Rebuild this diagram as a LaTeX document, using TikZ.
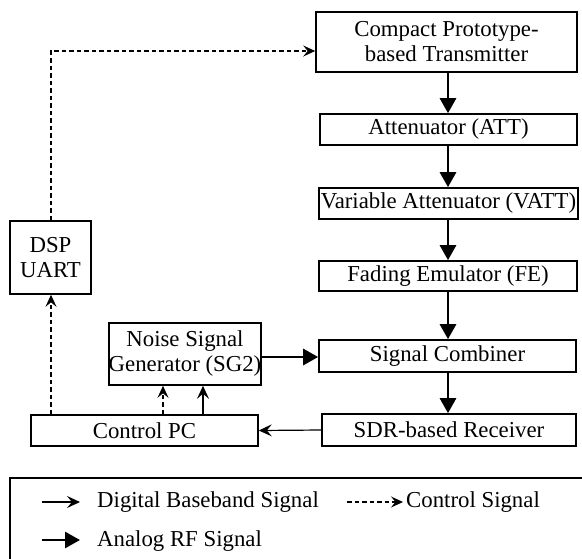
\documentclass[tikz,border=0pt]{standalone}
\usepackage{fontspec}
\setmainfont{Liberation Serif}
\usetikzlibrary{arrows.meta}
\begin{document}
\begin{tikzpicture}[x=1pt,y=-1pt,
  txt/.style={font=\fontsize{22.8}{25}\selectfont},
  box/.style={txt, draw, line width=1.6pt, inner sep=0pt, align=center},
  rf/.style={line width=2.8pt, -{Triangle[length=15pt,width=16pt]}},
  dig/.style={line width=1.2pt, -{Stealth[length=13pt,width=12pt,inset=5pt]}},
  ctl/.style={line width=1.1pt, dash pattern=on 4.5pt off 3pt, -{Stealth[length=12pt,width=11pt,inset=4.5pt]}},
  lbl/.style={txt, anchor=base west, inner sep=0pt}]
\useasboundingbox (0,0) rectangle (582,558);
\clip (0,0) rectangle (582,558);

% boxes
\node[box, minimum width=261pt, minimum height=60pt] (tx) at (446.5,42) {Compact Prototype-\\based Transmitter};
\node[box, minimum width=257pt, minimum height=31pt] (att) at (448.5,129.5) {Attenuator (ATT)};
\node[box, minimum width=259pt, minimum height=31pt] (vatt) at (448.5,203.5) {Variable Attenuator (VATT)};
\node[box, minimum width=258pt, minimum height=30pt] (fe) at (448,276) {Fading Emulator (FE)};
\node[box, minimum width=257pt, minimum height=32pt] (comb) at (447.5,356) {Signal Combiner};
\node[box, minimum width=254pt, minimum height=32pt] (sdr) at (449,430) {SDR-based Receiver};
\node[box, minimum width=144pt, minimum height=62pt] (noise) at (185,354) {Noise Signal\\Generator (SG2)};
\node[box, minimum width=227pt, minimum height=31pt] (pc) at (144.5,430.5) {Control PC};
\node[box, minimum width=81pt, minimum height=73pt] (dsp) at (50.5,257.5) {DSP\\UART};

% helper coordinates
\coordinate (ax) at (448,0);
\coordinate (c1) at (163,0);
\coordinate (c2) at (203,0);
\coordinate (dx) at (51,0);
\coordinate (txin) at ([yshift=-9pt]tx.west);

% RF chain
\draw[rf] (tx.south -| ax) -- (att.north -| ax);
\draw[rf] (att.south -| ax) -- (vatt.north -| ax);
\draw[rf] (vatt.south -| ax) -- (fe.north -| ax);
\draw[rf] (fe.south -| ax) -- (comb.north -| ax);
\draw[rf] (comb.south -| ax) -- (sdr.north -| ax);
\draw[rf] (noise.east |- 0,357) -- (comb.west |- 0,357);

% digital
\draw[dig] (sdr.west) -- (pc.east);
\draw[dig] (pc.north -| c2) -- (noise.south -| c2);

% control
\draw[ctl] (pc.north -| c1) -- (noise.south -| c1);
\draw[ctl] (pc.north -| dx) -- (dsp.south -| dx);
\draw[ctl] (dsp.north -| dx) -- (dx |- txin) -- (txin);

% legend
\draw[line width=1.6pt] (10,478) rectangle (600,580);
\coordinate (l1a) at (42,502);
\coordinate (l1b) at (80,502);
\coordinate (l2a) at (347,502);
\coordinate (l2b) at (403,502);
\coordinate (l3a) at (42,540);
\coordinate (l3b) at (80,540);
\draw[dig] (l1a) -- (l1b);
\draw[ctl] (l2a) -- (l2b);
\draw[rf] (l3a) -- (l3b);
\node[lbl] (t1) at (97,507) {Digital Baseband Signal};
\node[lbl] (t2) at (406,507) {Control Signal};
\node[lbl] (t3) at (97,546) {Analog RF Signal};
\end{tikzpicture}
\end{document}
